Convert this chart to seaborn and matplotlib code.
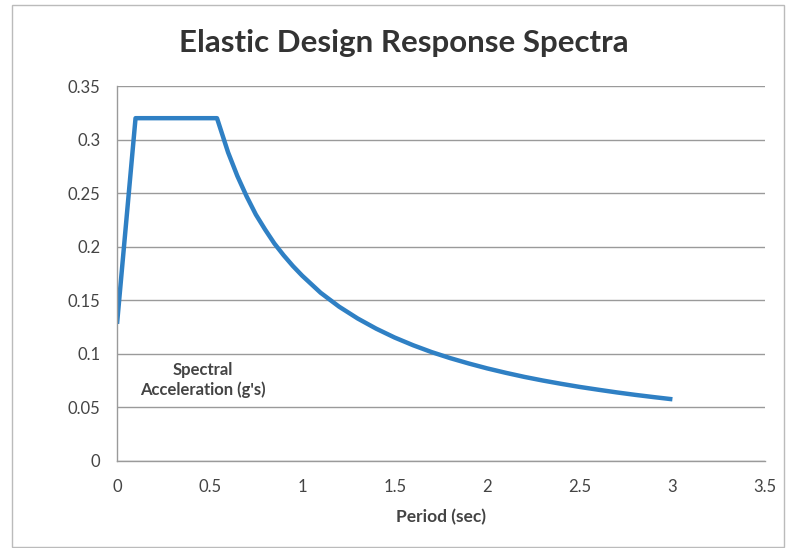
import matplotlib
matplotlib.use("Agg")
import matplotlib.pyplot as plt
import matplotlib.patches as mpatches
import pandas as pd
import seaborn as sns

# Design response spectrum: period (sec) vs spectral acceleration (g)
period = [0.0, 0.1, 0.54, 0.6, 0.65, 0.7, 0.75, 0.8, 0.85, 0.9, 0.95, 1.0,
          1.1, 1.2, 1.3, 1.4, 1.5, 1.6, 1.7, 1.8, 1.9, 2.0, 2.1, 2.2, 2.3,
          2.4, 2.5, 2.6, 2.7, 2.8, 2.9, 3.0]
accel = [0.128, 0.32, 0.32, 0.288, 0.266, 0.247, 0.230, 0.216, 0.203, 0.192,
         0.182, 0.173, 0.157, 0.144, 0.133, 0.1235, 0.1152, 0.108, 0.1016,
         0.096, 0.091, 0.0864, 0.0823, 0.0785, 0.0751, 0.072, 0.0691, 0.0665,
         0.064, 0.0617, 0.0596, 0.0576]

x_ticks = [0, 0.5, 1, 1.5, 2, 2.5, 3, 3.5]
x_tick_labels = ["0", "0.5", "1", "1.5", "2", "2.5", "3", "3.5"]
y_ticks = [0, 0.05, 0.1, 0.15, 0.2, 0.25, 0.3, 0.35]
y_tick_labels = ["0", "0.05", "0.1", "0.15", "0.2", "0.25", "0.3", "0.35"]

df = pd.DataFrame({"Period": period, "Sa": accel})

sns.set_style("white")
plt.rcParams["font.family"] = ["Lato", "DejaVu Sans"]

fig = plt.figure(figsize=(7.87, 5.48), dpi=100)
ax = fig.add_axes([0.1487, 0.1588, 0.8233, 0.6842])

sns.lineplot(data=df, x="Period", y="Sa", ax=ax, color="#2f80c4",
             linewidth=3.2, solid_capstyle="butt", solid_joinstyle="round",
             sort=False)

ax.set_xlim(0, 3.5)
ax.set_ylim(0, 0.35)
ax.set_xticks(x_ticks)
ax.set_xticklabels(x_tick_labels)
ax.set_yticks(y_ticks)
ax.set_yticklabels(y_tick_labels)
ax.tick_params(axis="x", labelsize=12, length=0, pad=13)
ax.tick_params(axis="y", labelsize=12, length=0, pad=12)
for lbl in ax.get_xticklabels() + ax.get_yticklabels():
    lbl.set_color("#444444")

ax.yaxis.grid(True, color="#9a9a9a", linewidth=1.0)
ax.xaxis.grid(False)
ax.set_axisbelow(True)
for side in ["top", "right"]:
    ax.spines[side].set_visible(False)
for side in ["left", "bottom"]:
    ax.spines[side].set_color("#9a9a9a")
    ax.spines[side].set_linewidth(1.0)

ax.set_xlabel("Period (sec)", fontsize=12.5, fontweight="bold", color="#444444",
              labelpad=10)
ax.set_ylabel("")
ax.text(0.462, 0.076, "Spectral\nAcceleration (g's)", ha="center", va="center",
        fontsize=12, fontweight="bold", color="#444444", linespacing=1.25)

fig.text(0.513, 0.922, "Elastic Design Response Spectra", ha="center",
         va="center", fontsize=22.5, fontweight="bold", color="#333333")

# Chart frame
fig.patches.append(mpatches.Rectangle((12 / 787, 1 / 548), 772 / 787, 542 / 548,
                                      transform=fig.transFigure, fill=False,
                                      edgecolor="#bbbbbb", linewidth=1.0))

fig.savefig("out.png", dpi=100)
